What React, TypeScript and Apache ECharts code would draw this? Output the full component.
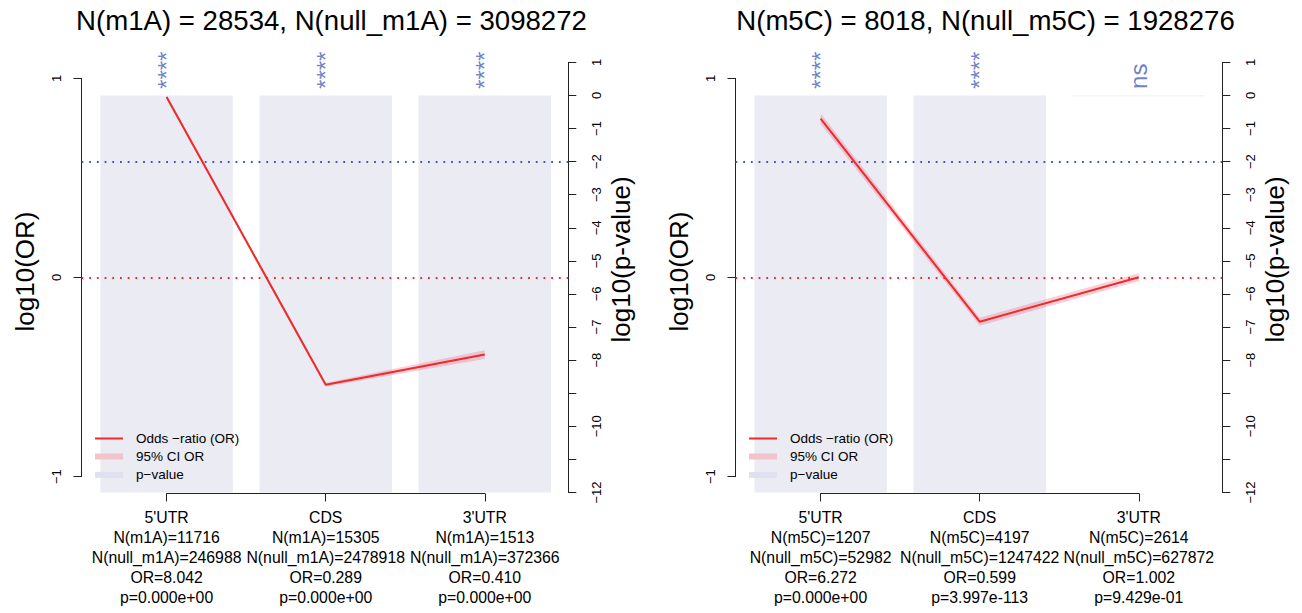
import React, { useEffect, useRef } from "react";
import * as echarts from "echarts";

// ---------- data ----------
const regions = ["5'UTR", "CDS", "3'UTR"];

// panel 1 : m1A
const m1aMark = "m1A";
const m1aTotal = 28534;
const m1aNullTotal = 3098272;
const m1aN = [11716, 15305, 1513];
const m1aNullN = [246988, 2478918, 372366];
const m1aOR = [8.042, 0.289, 0.41];
const m1aCIHalf = [0.011, 0.01, 0.022]; // half width of 95% CI band, log10 units
const m1aP = [0, 0, 0];
const m1aPText = ["0.000e+00", "0.000e+00", "0.000e+00"];
const m1aSig = ["****", "****", "****"];

// panel 2 : m5C
const m5cMark = "m5C";
const m5cTotal = 8018;
const m5cNullTotal = 1928276;
const m5cN = [1207, 4197, 2614];
const m5cNullN = [52982, 1247422, 627872];
const m5cOR = [6.272, 0.599, 1.002];
const m5cCIHalf = [0.027, 0.02, 0.02];
const m5cP = [0, 3.997e-113, 0.9429];
const m5cPText = ["0.000e+00", "3.997e-113", "9.429e-01"];
const m5cSig = ["****", "****", "ns"];

// axis ranges / ticks
const orAxisMin = -1;
const orAxisMax = 1;
const pAxisMin = -12;
const pAxisMax = 1;
const pLabelValues = [1, 0, -1, -2, -3, -4, -5, -6, -7, -8, -10, -12];
const pThreshold = -2; // log10(0.01)

// ---------- style / layout ----------
const FONT = "'Liberation Sans', Arial, sans-serif";
const RED = "#EE2A2A";
const BAND = "rgba(236,110,130,0.32)";
const BAND_LEGEND = "#F3C3CB";
const BAR = "#EBEBF4";
const BAR_LEGEND = "#DEE2F0";
const BLUE = "#3F58AA";
const SIG_BLUE = "#4761B6";
const AXIS = "#222";

const PANEL_DX = 654;
const PLOT_LEFT = 81.5;
const PLOT_RIGHT = 568.3;
const PLOT_TOP = 62.3;
const PLOT_BOTTOM = 492.5;
const X_MIN = -0.535;
const X_MAX = 2.525;
const OR_EXT = 1.08;
const BAR_WIDTH = 132.5;
const SIG_Y = 0.18;

const minus = (v: number | string) => String(v).replace("-", "\u2212");

type Panel = {
  mark: string;
  total: number;
  nullTotal: number;
  n: number[];
  nullN: number[];
  or: number[];
  ciHalf: number[];
  p: number[];
  pText: string[];
  sig: string[];
};

const panels: Panel[] = [
  { mark: m1aMark, total: m1aTotal, nullTotal: m1aNullTotal, n: m1aN, nullN: m1aNullN, or: m1aOR, ciHalf: m1aCIHalf, p: m1aP, pText: m1aPText, sig: m1aSig },
  { mark: m5cMark, total: m5cTotal, nullTotal: m5cNullTotal, n: m5cN, nullN: m5cNullN, or: m5cOR, ciHalf: m5cCIHalf, p: m5cP, pText: m5cPText, sig: m5cSig },
];

function buildOption() {
  const grid: any[] = [];
  const xAxis: any[] = [];
  const yAxis: any[] = [];
  const series: any[] = [];
  const legend: any[] = [];
  const title: any[] = [];

  panels.forEach((pn, k) => {
    const dx = k * PANEL_DX;
    const gData = k * 3;
    const gLeft = k * 3 + 1;
    const gX = k * 3 + 2;
    const yOR = k * 4;
    const yP = k * 4 + 1;

    title.push({
      text: `N(${pn.mark}) = ${pn.total}, N(null_${pn.mark}) = ${pn.nullTotal}`,
      left: 331.5 + dx,
      top: 6,
      textAlign: "center",
      padding: 0,
      textStyle: { fontSize: 27.6, fontWeight: "normal", color: "#000", fontFamily: FONT },
    });

    // grids
    grid.push({ left: PLOT_LEFT + dx, top: PLOT_TOP, width: PLOT_RIGHT - PLOT_LEFT, height: PLOT_BOTTOM - PLOT_TOP });
    grid.push({ left: PLOT_LEFT + dx, top: 78.3, width: 1, height: 398.4 });
    const xStart = PLOT_LEFT + dx + ((0 - X_MIN) / (X_MAX - X_MIN)) * (PLOT_RIGHT - PLOT_LEFT);
    const xEnd = PLOT_LEFT + dx + ((2 - X_MIN) / (X_MAX - X_MIN)) * (PLOT_RIGHT - PLOT_LEFT);
    grid.push({ left: xStart, top: 492.5, width: xEnd - xStart, height: 1 });

    // x axes
    xAxis.push({ type: "value", gridIndex: gData, min: X_MIN, max: X_MAX, show: false });
    xAxis.push({ type: "value", gridIndex: gLeft, min: 0, max: 1, show: false });
    xAxis.push({
      type: "category",
      gridIndex: gX,
      boundaryGap: false,
      data: regions.map(
        (r, i) =>
          `${r}\nN(${pn.mark})=${pn.n[i]}\nN(null_${pn.mark})=${pn.nullN[i]}\nOR=${pn.or[i].toFixed(3)}\np=${pn.pText[i]}`
      ),
      axisLine: { show: true, onZero: false, lineStyle: { color: AXIS, width: 1 } },
      axisTick: { show: true, interval: 0, length: 8, lineStyle: { color: AXIS } },
      axisLabel: { interval: 0, fontSize: 15.8, lineHeight: 20, margin: 14, color: "#000", fontFamily: FONT },
      splitLine: { show: false },
    });

    // y axes
    yAxis.push({ type: "value", gridIndex: gData, min: -OR_EXT, max: OR_EXT, show: false });
    yAxis.push({
      type: "value",
      gridIndex: gData,
      position: "right",
      min: pAxisMin,
      max: pAxisMax,
      interval: 1,
      axisLine: { show: true, onZero: false, lineStyle: { color: AXIS, width: 1 } },
      axisTick: { show: true, length: 8, lineStyle: { color: AXIS } },
      axisLabel: {
        rotate: 90,
        margin: 22,
        fontSize: 13,
        color: "#000",
        fontFamily: FONT,
        customValues: pLabelValues,
        formatter: (v: number) => minus(v),
      },
      splitLine: { show: false },
      name: "log10(p-value)",
      nameLocation: "middle",
      nameRotate: 90,
      nameGap: 40,
      nameTextStyle: { fontSize: 26, color: "#000", fontFamily: FONT, padding: [0, 0, 0, 36] },
    });
    yAxis.push({
      type: "value",
      gridIndex: gLeft,
      position: "left",
      min: orAxisMin,
      max: orAxisMax,
      interval: 1,
      axisLine: { show: true, onZero: false, lineStyle: { color: AXIS, width: 1 } },
      axisTick: { show: true, length: 8, lineStyle: { color: AXIS } },
      axisLabel: { rotate: 90, margin: 19, fontSize: 13, color: "#000", fontFamily: FONT, formatter: (v: number) => minus(v) },
      splitLine: { show: false },
      name: "log10(OR)",
      nameLocation: "middle",
      nameRotate: 90,
      nameGap: 44,
      nameTextStyle: { fontSize: 26, color: "#000", fontFamily: FONT, padding: [0, 0, 0, 12] },
    });
    yAxis.push({ type: "value", gridIndex: gX, show: false, min: 0, max: 1 });

    // series
    const orLog = pn.or.map((v) => Math.log10(v));
    series.push({
      type: "bar",
      name: "p\u2212value",
      xAxisIndex: gData,
      yAxisIndex: yP,
      barWidth: BAR_WIDTH,
      z: 1,
      silent: true,
      data: pn.p.map((v, i) => [i, Math.max(Math.log10(v), pAxisMin)]),
      itemStyle: { color: BAR },
      markLine: {
        silent: true,
        symbol: "none",
        label: { show: false },
        lineStyle: { color: BLUE, type: [1.8, 5.9], width: 1.8 },
        data: [{ yAxis: pThreshold }],
      },
    });
    series.push({
      type: "custom",
      name: "95% CI OR",
      xAxisIndex: gData,
      yAxisIndex: yOR,
      z: 3,
      silent: true,
      encode: { x: 0, y: [1, 2] },
      data: orLog.map((v, i) => [i, v - pn.ciHalf[i], v + pn.ciHalf[i]]),
      renderItem: (params: any, api: any) => {
        const i = params.dataIndexInside;
        if (i >= params.dataInsideLength - 1) return { type: "group", children: [] };
        const a = api.coord([api.value(0, i), api.value(1, i)]);
        const b = api.coord([api.value(0, i + 1), api.value(1, i + 1)]);
        const c = api.coord([api.value(0, i + 1), api.value(2, i + 1)]);
        const d = api.coord([api.value(0, i), api.value(2, i)]);
        return { type: "polygon", shape: { points: [a, b, c, d] }, style: { fill: BAND } };
      },
    });
    series.push({
      type: "line",
      name: "Odds \u2212ratio (OR)",
      xAxisIndex: gData,
      yAxisIndex: yOR,
      z: 4,
      silent: true,
      symbol: "none",
      data: orLog.map((v, i) => [i, v]),
      lineStyle: { color: RED, width: 2 },
      itemStyle: { color: RED },
      markLine: {
        silent: true,
        symbol: "none",
        label: { show: false },
        lineStyle: { color: RED, type: [1.8, 5.9], width: 1.8 },
        data: [{ yAxis: 0 }],
      },
    });
    series.push({
      type: "scatter",
      name: "sig",
      xAxisIndex: gData,
      yAxisIndex: yP,
      symbolSize: 1,
      silent: true,
      itemStyle: { color: "transparent" },
      data: pn.sig.map((s, i) => ({ name: s, value: [i, SIG_Y] })),
      label: {
        show: true,
        formatter: "{b}",
        position: [0, 0],
        rotate: 90,
        align: "left",
        verticalAlign: "middle",
        fontSize: 24,
        color: SIG_BLUE,
        fontFamily: FONT,
      },
    });

    // legends
    const legItems = [
      { name: "Odds \u2212ratio (OR)", color: RED, h: 2, top: 431.5 },
      { name: "95% CI OR", color: BAND_LEGEND, h: 6, top: 449.5 },
      { name: "p\u2212value", color: BAR_LEGEND, h: 6, top: 467.9 },
    ];
    legItems.forEach((it) => {
      legend.push({
        left: 95 + dx,
        top: it.top,
        padding: 0,
        itemWidth: 28,
        itemHeight: it.h,
        selectedMode: false,
        data: [{ name: it.name, icon: "rect", itemStyle: { color: it.color } }],
        textStyle: { fontSize: 13.5, color: "#000", fontFamily: FONT, padding: [0, 0, 0, 8] },
      });
    });
  });

  return { animation: false, backgroundColor: "#fff", title, grid, xAxis, yAxis, series, legend };
}

export default function App() {
  const ref = useRef<HTMLDivElement>(null);
  useEffect(() => {
    document.body.style.margin = "0";
    if (!ref.current) return;
    const chart = echarts.init(ref.current, undefined, { renderer: "svg" });
    chart.setOption(buildOption() as any);
    return () => chart.dispose();
  }, []);
  return <div ref={ref} style={{ width: 1302, height: 613 }} />;
}
